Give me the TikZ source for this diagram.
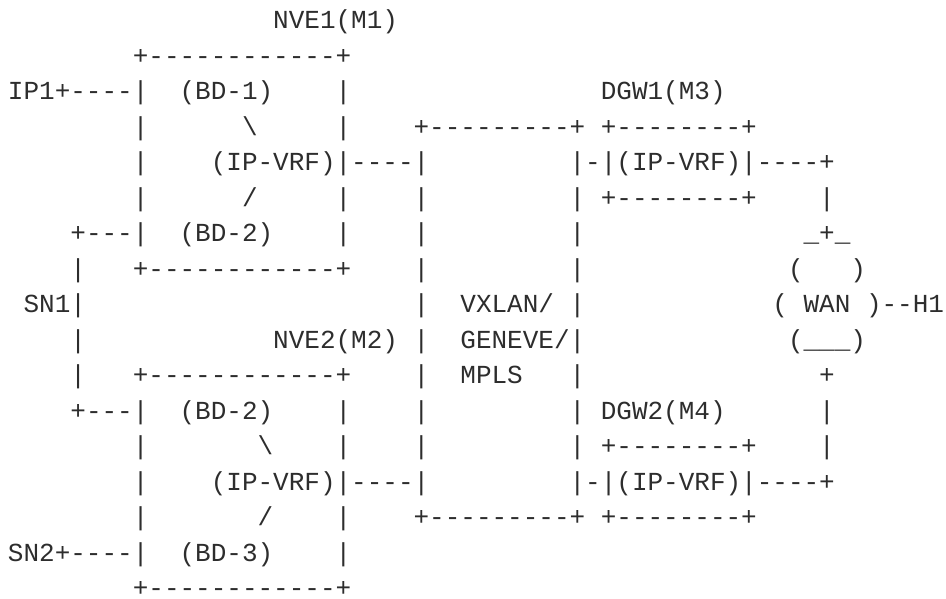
\documentclass[tikz,border=0pt]{standalone}
\usepackage{fontspec}
\setmonofont{Liberation Mono}
\definecolor{ink}{RGB}{45,45,45}
\tikzset{ascii/.style={anchor=base west, inner sep=0pt, outer sep=0pt, text=ink,
  font=\ttfamily\fontsize{26}{26}\selectfont}}
\newcommand\asc[3]{\node[ascii] (r#1c#2) at ({8+#2*15.6},{-(28.8+#1*35.5)}) {#3};}
\begin{document}
\begin{tikzpicture}[x=1pt,y=1pt]
\useasboundingbox (0,0) rectangle (946,-598);
% row 0
\asc{0}{17}{NVE1(M1)}
% row 1
\asc{1}{8}{+------------+}
% row 2
\asc{2}{0}{IP1+----|}
\asc{2}{11}{(BD-1)}
\asc{2}{21}{|}
\asc{2}{38}{DGW1(M3)}
% row 3
\asc{3}{8}{|}
\asc{3}{15}{\textbackslash}
\asc{3}{21}{|}
\asc{3}{26}{+---------+}
\asc{3}{38}{+--------+}
% row 4
\asc{4}{8}{|}
\asc{4}{13}{(IP-VRF)|----|}
\asc{4}{36}{|-|(IP-VRF)|----+}
% row 5
\asc{5}{8}{|}
\asc{5}{15}{/}
\asc{5}{21}{|}
\asc{5}{26}{|}
\asc{5}{36}{|}
\asc{5}{38}{+--------+}
\asc{5}{52}{|}
% row 6
\asc{6}{4}{+---|}
\asc{6}{11}{(BD-2)}
\asc{6}{21}{|}
\asc{6}{26}{|}
\asc{6}{36}{|}
\asc{6}{51}{\_+\_}
% row 7
\asc{7}{4}{|}
\asc{7}{8}{+------------+}
\asc{7}{26}{|}
\asc{7}{36}{|}
\asc{7}{50}{(}
\asc{7}{54}{)}
% row 8
\asc{8}{1}{SN1|}
\asc{8}{26}{|}
\asc{8}{29}{VXLAN/}
\asc{8}{36}{|}
\asc{8}{49}{(}
\asc{8}{51}{WAN}
\asc{8}{55}{)--H1}
% row 9
\asc{9}{4}{|}
\asc{9}{17}{NVE2(M2)}
\asc{9}{26}{|}
\asc{9}{29}{GENEVE/|}
\asc{9}{50}{(\_\_\_)}
% row 10
\asc{10}{4}{|}
\asc{10}{8}{+------------+}
\asc{10}{26}{|}
\asc{10}{29}{MPLS}
\asc{10}{36}{|}
\asc{10}{52}{+}
% row 11
\asc{11}{4}{+---|}
\asc{11}{11}{(BD-2)}
\asc{11}{21}{|}
\asc{11}{26}{|}
\asc{11}{36}{|}
\asc{11}{38}{DGW2(M4)}
\asc{11}{52}{|}
% row 12
\asc{12}{8}{|}
\asc{12}{16}{\textbackslash}
\asc{12}{21}{|}
\asc{12}{26}{|}
\asc{12}{36}{|}
\asc{12}{38}{+--------+}
\asc{12}{52}{|}
% row 13
\asc{13}{8}{|}
\asc{13}{13}{(IP-VRF)|----|}
\asc{13}{36}{|-|(IP-VRF)|----+}
% row 14
\asc{14}{8}{|}
\asc{14}{16}{/}
\asc{14}{21}{|}
\asc{14}{26}{+---------+}
\asc{14}{38}{+--------+}
% row 15
\asc{15}{0}{SN2+----|}
\asc{15}{11}{(BD-3)}
\asc{15}{21}{|}
% row 16
\asc{16}{8}{+------------+}
\end{tikzpicture}
\end{document}
